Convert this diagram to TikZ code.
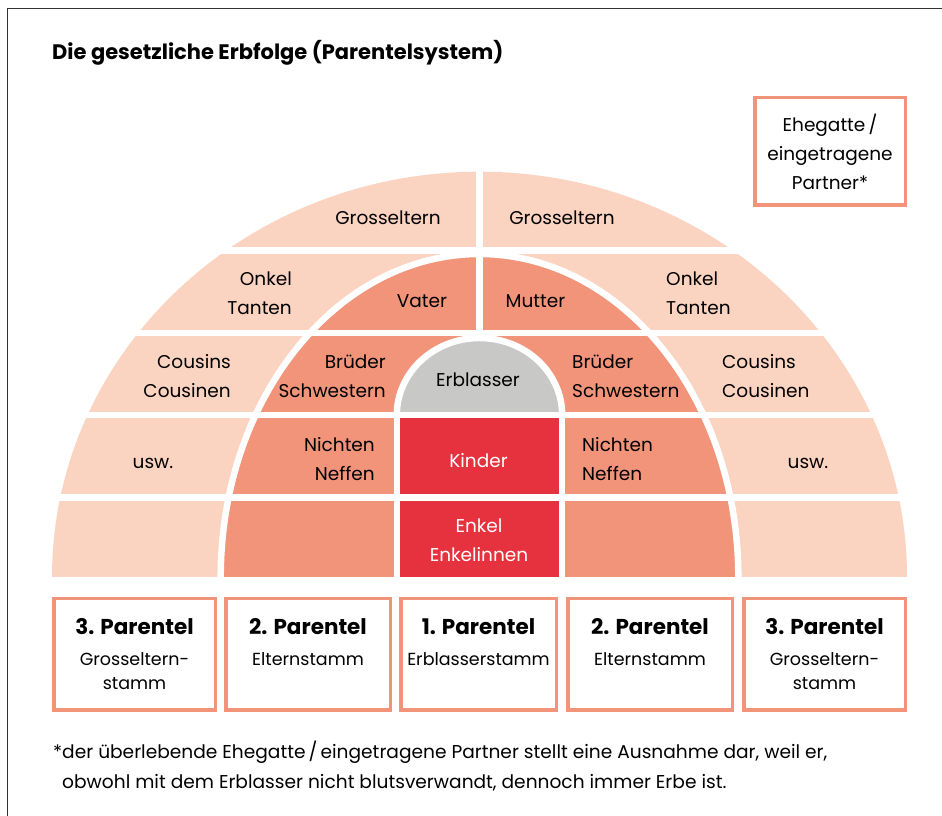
\documentclass[tikz,border=0pt]{standalone}
\usepackage{fontspec}
\setmainfont{Poppins}
\definecolor{light}{RGB}{251,211,193}
\definecolor{med}{RGB}{241,148,122}
\definecolor{kred}{RGB}{229,50,62}
\definecolor{egray}{RGB}{200,200,198}
\definecolor{framegray}{RGB}{50,50,50}
\newcommand\chartfont{\fontsize{18.5}{29}\selectfont}
\newcommand\boxfont{\fontsize{17.5}{24}\selectfont}
\newcommand\boxhead{\fontsize{21.5}{24}\selectfont\bfseries}
\newcommand\notefont{\fontsize{18.6}{30}\selectfont}
\newcommand\titlefont{\fontsize{21}{24}\selectfont\bfseries}
\begin{document}
\begin{tikzpicture}[x=1pt,y=1pt,
  gap/.style={draw=white,line width=6.5pt},
  lbl/.style={font=\chartfont,inner sep=0pt,text=black},
  wlbl/.style={font=\chartfont,inner sep=0pt,text=white},
  pbox/.style={draw=med,line width=3.5pt,minimum height=111.5pt,inner sep=0pt,font=\boxfont,fill=white},
  ebox/.style={draw=med,line width=3.5pt,minimum width=150.5pt,minimum height=107.5pt,inner sep=0pt,font=\chartfont,align=center,fill=white}]
\useasboundingbox (0,0) rectangle (942,816);
% frame
\draw[framegray,line width=1.2pt] (7.3,0) -- (7.3,807.7) -- (942,807.7);
% title
\node[anchor=base west,inner sep=0pt,font=\titlefont] (title) at (52,756.7) {Die gesetzliche Erbfolge (Parentelsystem)};
% regions
\fill[light] (52,239) arc[start angle=180,end angle=0,x radius=427.5pt,y radius=405.3pt] -- cycle;
\fill[med] (220.7,239) arc[start angle=180,end angle=0,x radius=258.8pt,y radius=323pt] -- cycle;
\fill[kred] (396.8,239) rectangle (562.2,401);
\fill[egray] (396.8,401) arc[start angle=180,end angle=0,x radius=82.7pt,y radius=77pt] -- cycle;
% white gaps
\draw[gap] (40,565.5) -- (920,565.5);
\draw[gap] (40,483) -- (920,483);
\draw[gap] (40,401) -- (920,401);
\draw[gap] (40,318.5) -- (920,318.5);
\draw[gap] (479.5,483) -- (479.5,660);
\draw[gap] (396.8,239) -- (396.8,401);
\draw[gap] (562.2,239) -- (562.2,401);
\draw[gap] (220.7,239) arc[start angle=180,end angle=0,x radius=258.8pt,y radius=323pt];
\draw[gap] (396.8,401) arc[start angle=180,end angle=0,x radius=82.7pt,y radius=77pt];
% labels
\node[lbl] (grossL) at (388,596.8) {\strut Grosseltern};
\node[lbl] (grossR) at (562,596.8) {\strut Grosseltern};
\node[lbl,anchor=east,align=right] (onkelL) at (292,521.3) {\strut Onkel\\\strut Tanten};
\node[lbl] (vater) at (422,513.8) {\strut Vater};
\node[lbl] (mutter) at (535.5,513.8) {\strut Mutter};
\node[lbl,anchor=west,align=left] (onkelR) at (666,521.3) {\strut Onkel\\\strut Tanten};
\node[lbl,anchor=east,align=right] (cousinsL) at (231,438.3) {\strut Cousins\\\strut Cousinen};
\node[lbl,anchor=east,align=right] (bruederL) at (386,438.3) {\strut Brüder\\\strut Schwestern};
\node[lbl] (erblasser) at (478,435.1) {\strut Erblasser};
\node[lbl,anchor=west,align=left] (bruederR) at (572,438.3) {\strut Brüder\\\strut Schwestern};
\node[lbl,anchor=west,align=left] (cousinsR) at (722,438.3) {\strut Cousins\\\strut Cousinen};
\node[lbl] (uswL) at (153,352.8) {\strut usw.};
\node[lbl,anchor=east,align=right] (nichtenL) at (375,355.3) {\strut Nichten\\\strut Neffen};
\node[wlbl] (kinder) at (478.5,353.8) {\strut Kinder};
\node[lbl,anchor=west,align=left] (nichtenR) at (582,355.3) {\strut Nichten\\\strut Neffen};
\node[lbl] (uswR) at (808,352.8) {\strut usw.};
\node[wlbl,align=center] (enkel) at (479,274.3) {\strut Enkel\\\strut Enkelinnen};
% spouse box
\node[ebox] (ehegatte) at (830,664.5) {\rule{0pt}{27.1pt}Ehegatte\,/\\\strut eingetragene\\\strut Partner*};
% parentel boxes
\node[pbox,minimum width=161.5pt] (p3L) at (134.5,161.5) {\parbox[c][100pt][t]{150pt}{\centering\rule{0pt}{30.5pt}{\boxhead 3. Parentel}\\[7pt]Grosseltern-\\stamm}};
\node[pbox,minimum width=164.5pt] (p2L) at (308,161.5) {\parbox[c][100pt][t]{150pt}{\centering\rule{0pt}{30.5pt}{\boxhead 2. Parentel}\\[7pt]Elternstamm}};
\node[pbox,minimum width=155.5pt] (p1) at (478.5,161.5) {\parbox[c][100pt][t]{150pt}{\centering\rule{0pt}{30.5pt}{\boxhead 1. Parentel}\\[7pt]Erblasserstamm}};
\node[pbox,minimum width=164.5pt] (p2R) at (650,161.5) {\parbox[c][100pt][t]{150pt}{\centering\rule{0pt}{30.5pt}{\boxhead 2. Parentel}\\[7pt]Elternstamm}};
\node[pbox,minimum width=161.5pt] (p3R) at (824.5,161.5) {\parbox[c][100pt][t]{150pt}{\centering\rule{0pt}{30.5pt}{\boxhead 3. Parentel}\\[7pt]Grosseltern-\\stamm}};
% footnote
\node[anchor=north west,inner sep=0pt,font=\notefont,align=left] (note) at (53,78.7) {\strut*der überlebende Ehegatte\,/\,eingetragene Partner stellt eine Ausnahme dar, weil er,\\\strut\hphantom{*}obwohl mit dem Erblasser nicht blutsverwandt, dennoch immer Erbe ist.};
\end{tikzpicture}
\end{document}
